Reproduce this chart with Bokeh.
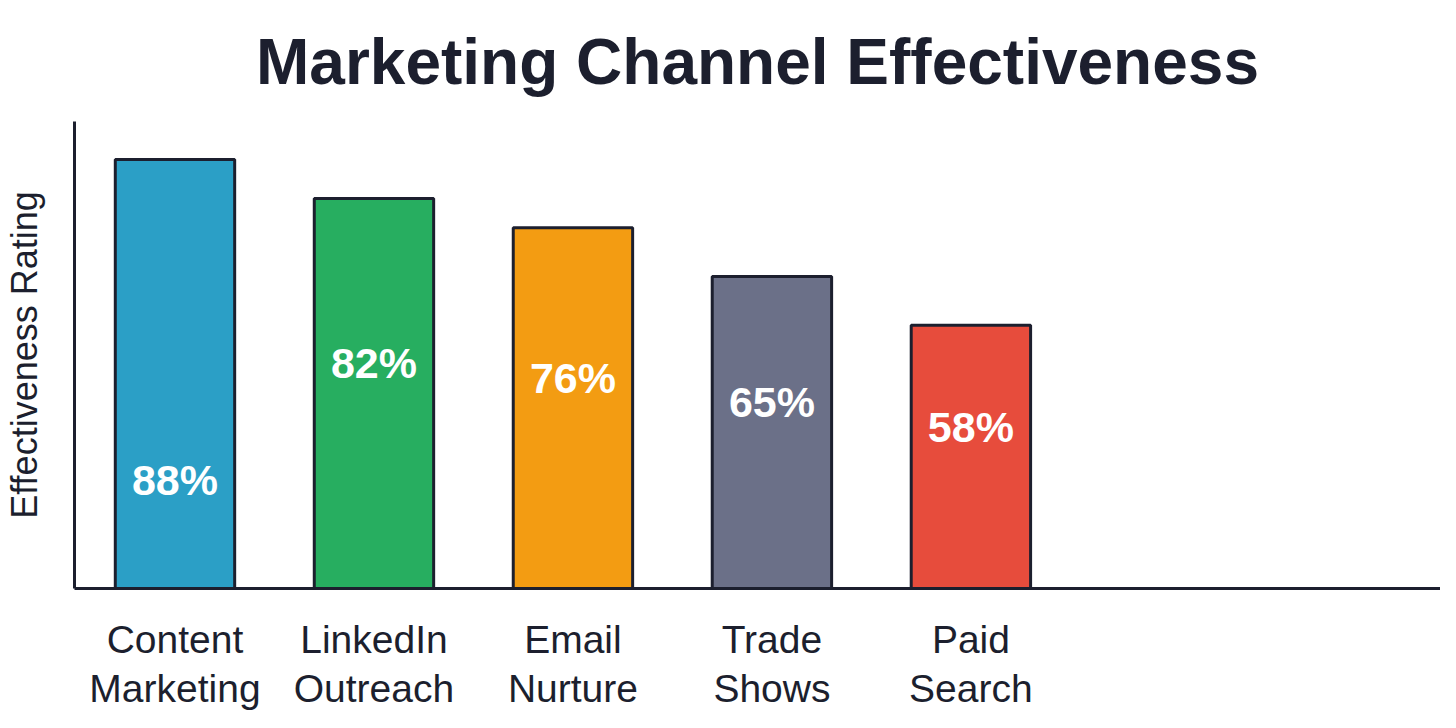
from bokeh.plotting import figure
from bokeh.models import ColumnDataSource, Range1d, FixedTicker
from bokeh.core.properties import value
from bokeh.embed import file_html
from bokeh.resources import INLINE

# Данные графика
channels = ["Content\nMarketing", "LinkedIn\nOutreach", "Email\nNurture", "Trade\nShows", "Paid\nSearch"]
bar_heights = [88, 80, 74, 64, 54]
pct_labels = ["88%", "82%", "76%", "65%", "58%"]
label_y = [22.2, 46.2, 43.2, 38.2, 33.2]
colors = ["#2b9fc6", "#27ae60", "#f39c12", "#6b7088", "#e74c3c"]

DARK = "#1c1f2e"
FONT = "Liberation Sans"


def create_figure():
    # Фигура с заголовком по центру, прижатым к верху
    p = figure(width=1440, height=712, title="Marketing Channel Effectiveness",
               x_range=Range1d(-0.505, 6.36), y_range=Range1d(0, 95.8),
               output_backend="svg", toolbar_location=None,
               min_border_left=0, min_border_right=0, min_border_top=0, min_border_bottom=0)
    p.title.align = "center"
    p.title.text_font = FONT
    p.title.text_font_size = "64px"
    p.title.text_font_style = "bold"
    p.title.text_color = DARK
    p.title.text_line_height = 1.6
    p.title.standoff = 47
    p.xgrid.visible = False
    p.ygrid.visible = False
    p.outline_line_color = None
    return p


def style_axes(p):
    # Оси: линия, подписи категорий, без делений
    xa = p.xaxis[0]
    xa.ticker = FixedTicker(ticks=list(range(len(channels))))
    xa.major_label_overrides = {i: c for i, c in enumerate(channels)}
    xa.major_label_text_font = FONT
    xa.major_label_text_font_size = "39px"
    xa.major_label_text_line_height = 1.15
    xa.major_label_text_color = DARK
    xa.major_label_standoff = 29
    xa.major_tick_out = 0
    xa.major_tick_in = 0
    xa.minor_tick_out = 0
    xa.minor_tick_in = 0
    xa.axis_label_standoff = 0
    xa.axis_line_width = 3
    xa.axis_line_color = DARK

    ya = p.yaxis[0]
    ya.ticker = FixedTicker(ticks=[])
    ya.axis_label = "Effectiveness Rating"
    ya.axis_label_text_font = FONT
    ya.axis_label_text_font_size = "36px"
    ya.axis_label_text_font_style = "normal"
    ya.axis_label_text_color = DARK
    ya.axis_label_standoff = 30
    ya.major_tick_out = 0
    ya.major_tick_in = 0
    ya.minor_tick_out = 0
    ya.minor_tick_in = 0
    ya.axis_line_width = 3
    ya.axis_line_color = DARK


def add_bars(p, source):
    # Столбцы с тёмной обводкой и подписи внутри
    p.vbar(x="x", top="top", width=0.6, bottom=0, source=source,
           fill_color="color", line_color=DARK, line_width=3)
    p.text(x="x", y="ly", text="label", source=source,
           text_font=value(FONT), text_font_size="43px", text_font_style="bold",
           text_color="white", text_align="center", text_baseline="middle")


if __name__ == "__main__":
    source = ColumnDataSource(dict(
        x=list(range(len(channels))),
        top=bar_heights,
        ly=label_y,
        label=pct_labels,
        color=colors,
    ))
    p = create_figure()
    style_axes(p)
    add_bars(p, source)
    open("out.html", "w").write(file_html(p, INLINE))
